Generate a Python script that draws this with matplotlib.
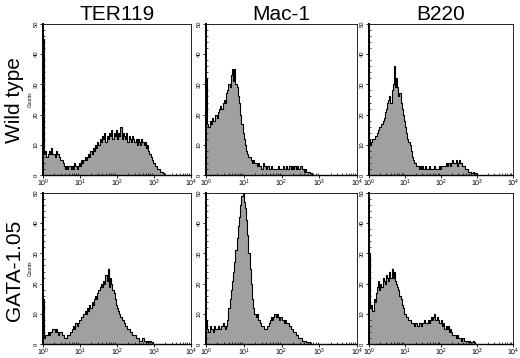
import numpy as np
import matplotlib
matplotlib.use("Agg")
import matplotlib.pyplot as plt
from matplotlib.ticker import FixedLocator, NullFormatter, LogLocator

plt.rcParams['font.family'] = ['Liberation Sans', 'DejaVu Sans']
plt.rcParams['mathtext.fontset'] = 'custom'
plt.rcParams['mathtext.rm'] = 'Liberation Sans'

col_titles = ["TER119", "Mac-1", "B220"]
row_titles = ["Wild type", "GATA-1.05"]
bins_per_decade = 32  # histogram channels per decade (log scale)

# Counts per channel, starting at 10^0
ter119_wt = [45, 7, 8, 6, 7, 8, 7, 9, 7, 7, 6, 8, 7, 7, 6, 5,
             5, 4, 3, 2, 3, 2, 3, 3, 2, 3, 2, 4, 3, 2, 3,
             4, 3, 5, 4, 5, 6, 5, 6, 7, 6, 8, 7, 9, 8, 10, 9, 11, 10,
             12, 11, 13, 12, 14, 11, 13, 12, 14, 13, 15, 12, 14, 13,
             15, 12, 14, 13, 16, 12, 14, 13, 12, 14, 11, 13, 12, 11, 13, 12,
             11, 12, 10, 12, 11, 10, 12, 11, 10, 11, 9, 10, 8, 7, 6, 5,
             4, 4, 3, 3, 2, 2, 1, 1, 1, 0.5, 0]
ter119_ga = [15, 2, 3, 3, 4, 3, 4, 4, 5, 5, 4, 5, 4, 3, 4, 4, 3,
             3, 2, 2, 2, 3, 3, 4, 4, 5, 6, 5, 7, 6, 7, 8,
             8, 9, 9, 10, 11, 10, 12, 11, 13, 12, 14, 13, 15, 16, 15, 17, 18, 19, 20,
             19, 21, 20, 23, 21, 25, 19, 22, 20, 18, 17, 15, 13, 12,
             11, 10, 9, 8, 8, 7, 6, 6, 5, 5, 4, 4, 3, 3, 3, 2, 2, 2, 1, 1, 1, 2, 1,
             1, 0.5, 1, 0.5, 1, 0.5, 0.5, 0]
mac1_wt = [32, 17, 16, 18, 17, 19, 18, 18, 20, 19, 21, 22, 23, 22, 24, 25, 24,
           27, 28, 30, 29, 33, 35, 31, 35, 30, 29, 26, 24, 20, 17, 14, 12,
           10, 8, 7, 6, 6, 5, 4, 5, 4, 4, 3, 4, 3, 3, 2, 4, 3, 3,
           2, 3, 2, 2, 3, 2, 2, 2, 2, 2, 3, 2, 2, 2, 3, 2,
           2, 3, 2, 3, 3, 2, 3, 2, 3, 2, 3, 2, 2, 3, 2, 2, 1, 2,
           1, 1, 1, 0.5, 0.5, 0]
mac1_ga = [8, 5, 4, 6, 5, 5, 4, 6, 5, 5, 6, 5, 5, 6, 7, 6, 5, 6,
           8, 12, 15, 18, 21, 24, 27, 31, 35, 39, 42, 46, 49, 51,
           47, 45, 41, 36, 30, 25, 20, 15, 12, 10, 9, 10, 8, 8, 7,
           6, 6, 5, 5, 5, 6, 7, 8, 9, 8, 9, 10, 9, 10, 9, 8,
           9, 8, 8, 7, 8, 7, 7, 6, 6, 5, 5, 4, 4, 3, 3, 2, 2, 2,
           1, 1, 1, 1, 0.5, 0.5, 0.5, 0]
b220_wt = [12, 10, 11, 12, 12, 13, 13, 14, 15, 16, 16, 17, 18,
           19, 21, 22, 24, 25, 26, 24, 28, 30, 36, 29, 32, 29, 26, 27, 24,
           22, 20, 18, 16, 14, 12, 11, 10, 8, 6, 5, 4, 4, 3,
           3, 2, 3, 2, 3, 2, 2, 3, 2, 2, 3, 2, 2, 2, 2, 3, 2, 2,
           2, 3, 2, 3, 3, 3, 3, 4, 3, 4, 4, 3, 4, 5, 4, 4, 5, 3, 4, 5,
           4, 4, 3, 3, 2, 2, 2, 1, 1, 1, 0.5, 1, 0.5, 0.5, 0.5, 0]
b220_ga = [30, 12, 13, 11, 15, 14, 17, 19, 21, 18, 20, 19, 22, 21, 20,
           23, 22, 21, 24, 22, 25, 22, 24, 21, 20, 19, 18, 16, 15, 13,
           12, 10, 10, 9, 9, 8, 8, 7, 7, 7, 6, 7, 7, 6, 7, 7, 6, 7, 7,
           8, 7, 7, 8, 7, 8, 9, 8, 9, 10, 8, 9, 8, 7,
           7, 8, 6, 7, 5, 6, 5, 6, 4, 5, 4, 3, 3, 3, 2, 3, 2, 2,
           2, 1, 2, 1, 1, 1, 1, 0.5, 1, 0.5, 0.5, 1, 0.5, 0]

data = [[ter119_wt, mac1_wt, b220_wt], [ter119_ga, mac1_ga, b220_ga]]

W, H = 520, 358
fig = plt.figure(figsize=(W / 100, H / 100), dpi=100)

col_px = [(43, 191), (206, 357), (369, 513)]
row_px = [(24, 175), (193, 344)]

for r in range(2):
    for c in range(3):
        x0, x1 = col_px[c]
        y0, y1 = row_px[r]
        ax = fig.add_axes([x0 / W, 1 - y1 / H, (x1 - x0) / W, (y1 - y0) / H])
        vals = np.asarray(data[r][c], dtype=float)
        n = len(vals)
        edges = 10 ** (np.arange(n + 1) / bins_per_decade)
        yv = np.append(vals, vals[-1])
        ax.fill_between(edges, yv, step='post', color='#a0a0a0', linewidth=0)
        ax.step(edges, yv, where='post', color='black', linewidth=0.8)
        ax.set_xscale('log')
        ax.set_xlim(1, 1e4)
        ax.set_ylim(0, 50)
        ax.set_xticks([1, 10, 100, 1000, 10000])
        ax.set_xticklabels([r'$10^{0}$', r'$10^{1}$', r'$10^{2}$', r'$10^{3}$', r'$10^{4}$'])
        ax.xaxis.set_minor_locator(LogLocator(base=10, subs=np.arange(2, 10)))
        ax.xaxis.set_minor_formatter(NullFormatter())
        ax.set_yticks([0, 10, 20, 30, 40, 50])
        ax.yaxis.set_minor_locator(FixedLocator(np.arange(0, 51, 2)))
        ax.tick_params(axis='x', which='major', direction='out', length=2, width=0.6,
                       labelsize=5, pad=0.3)
        ax.tick_params(axis='x', which='minor', direction='in', length=1.5, width=0.5)
        ax.tick_params(axis='y', which='major', direction='out', length=2, width=0.6,
                       labelsize=4.2, pad=1)
        ax.tick_params(axis='y', which='minor', direction='in', length=1.5, width=0.5)
        for lab in ax.get_yticklabels():
            lab.set_rotation(90)
            lab.set_va('center')
        for s in ['top', 'right']:
            ax.spines[s].set_linewidth(0.6)
        ax.spines['left'].set_linewidth(1.4)
        ax.spines['bottom'].set_linewidth(1.0)
        if c == 0:
            ax.set_ylabel('Counts', fontsize=3.5, labelpad=1)
        if r == 0:
            ax.set_title(col_titles[c], fontsize=15, pad=1)

fig.text(15 / W, 1 - 100 / H, row_titles[0], rotation=90, fontsize=15,
         ha='center', va='center')
fig.text(15 / W, 1 - 270 / H, row_titles[1], rotation=90, fontsize=15,
         ha='center', va='center')

fig.savefig('out.png', dpi=100)
